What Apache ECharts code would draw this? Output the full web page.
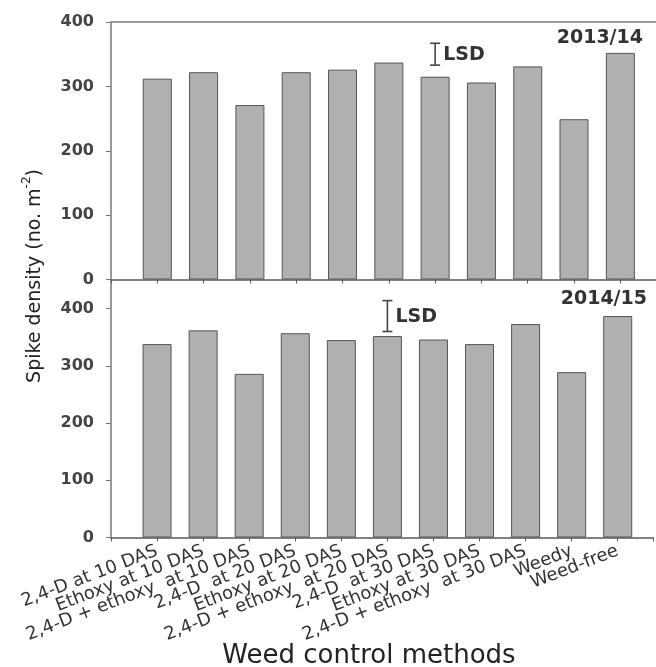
<!DOCTYPE html>
<html>
<head>
<meta charset="utf-8">
<script src="https://cdn.jsdelivr.net/npm/echarts@6/dist/echarts.min.js"></script>
<style>
  html, body { margin: 0; padding: 0; background: #fff; }
  #chart { width: 656px; height: 667px; }
</style>
</head>
<body>
<div id="chart"></div>
<script>
// Treatments (x categories)
const categories = [
  '2,4-D at 10 DAS',
  'Ethoxy at 10 DAS',
  '2,4-D + ethoxy  at 10 DAS',
  '2,4-D  at 20 DAS',
  'Ethoxy at 20 DAS',
  '2,4-D + ethoxy  at 20 DAS',
  '2,4-D  at 30 DAS',
  'Ethoxy at 30 DAS',
  '2,4-D + ethoxy  at 30 DAS',
  'Weedy',
  'Weed-free'
];

// Spike density (no. m-2) per season
const density2013 = [312, 322, 271, 322, 326, 337, 315, 306, 331, 249, 352];
const density2014 = [338, 362, 286, 357, 345, 352, 346, 338, 373, 289, 387];

// LSD bars: [x position (treatment number), lower end, upper end]
const lsd2013 = [7, 333, 367];
const lsd2014 = [6, 360, 414];

// Season labels
const seasons = ['2013/14', '2014/15'];

const chart = echarts.init(document.getElementById('chart'), null, { renderer: 'canvas' });

const AXIS = '#5a5a5a';
const TEXT = '#333';
const BAR_FILL = '#b0b0b0';
const BAR_EDGE = '#555';

// The x frame runs off the right edge of the plot area
const xMax = 11.77;

function toPoints(vals) {
  return vals.map((v, i) => [i + 1, v]);
}

function lsdRender(params, api) {
  const x = api.value(0);
  const p1 = api.coord([x, api.value(1)]);
  const p2 = api.coord([x, api.value(2)]);
  const cap = 5;
  const style = { stroke: '#444', lineWidth: 1.6 };
  return {
    type: 'group',
    children: [
      { type: 'line', shape: { x1: p1[0], y1: p1[1], x2: p2[0], y2: p2[1] }, style },
      { type: 'line', shape: { x1: p1[0] - cap, y1: p1[1], x2: p1[0] + cap, y2: p1[1] }, style },
      { type: 'line', shape: { x1: p2[0] - cap, y1: p2[1], x2: p2[0] + cap, y2: p2[1] }, style },
      {
        type: 'text',
        x: p1[0] + 8,
        y: (p1[1] + p2[1]) / 2 + 1,
        style: {
          text: 'LSD',
          fill: '#333',
          font: 'bold 19px "DejaVu Sans"',
          align: 'left',
          verticalAlign: 'middle'
        }
      }
    ]
  };
}

const xAxisBase = {
  type: 'value',
  min: 0,
  max: xMax,
  interval: 1,
  splitLine: { show: false },
  axisLine: { show: true, onZero: false, lineStyle: { color: AXIS, width: 1.5 } },
  axisTick: { show: true, length: 4, lineStyle: { color: AXIS } }
};

const yAxisBase = {
  type: 'value',
  min: 0,
  interval: 100,
  splitLine: { show: false },
  axisLine: { show: true, lineStyle: { color: '#777', width: 1.5 } },
  axisTick: { show: true, length: 5, lineStyle: { color: '#777' } },
  axisLabel: {
    margin: 17,
    color: '#444',
    fontFamily: 'DejaVu Sans',
    fontWeight: 'bold',
    fontSize: 16
  }
};

const option = {
  backgroundColor: '#fff',
  animation: false,
  grid: [
    { left: 111, top: 22, right: 0, height: 257.5 },
    { left: 111, top: 280, right: 0, height: 257.5 }
  ],
  xAxis: [
    Object.assign({}, xAxisBase, {
      gridIndex: 0,
      axisLabel: { show: false }
    }),
    Object.assign({}, xAxisBase, {
      gridIndex: 1,
      axisLabel: {
        show: true,
        rotate: 21,
        margin: 13,
        color: TEXT,
        fontFamily: 'DejaVu Sans',
        fontSize: 18,
        formatter: v => (Number.isInteger(v) ? categories[v - 1] || '' : '')
      }
    }),
    // frame line along the top of the upper panel
    {
      type: 'value',
      gridIndex: 0,
      position: 'top',
      min: 0,
      max: xMax,
      axisLine: { show: true, onZero: false, lineStyle: { color: '#999', width: 2 } },
      axisTick: { show: false },
      axisLabel: { show: false },
      splitLine: { show: false }
    }
  ],
  yAxis: [
    Object.assign({}, yAxisBase, { gridIndex: 0, max: 400 }),
    Object.assign({}, yAxisBase, {
      gridIndex: 1,
      max: 450,
      axisLabel: Object.assign({}, yAxisBase.axisLabel, { showMaxLabel: false })
    })
  ],
  series: [
    {
      type: 'bar',
      xAxisIndex: 0,
      yAxisIndex: 0,
      barWidth: 29,
      data: toPoints(density2013),
      itemStyle: { color: BAR_FILL, borderColor: BAR_EDGE, borderWidth: 1 }
    },
    {
      type: 'bar',
      xAxisIndex: 1,
      yAxisIndex: 1,
      barWidth: 29,
      data: toPoints(density2014),
      itemStyle: { color: BAR_FILL, borderColor: BAR_EDGE, borderWidth: 1 }
    },
    {
      type: 'custom',
      xAxisIndex: 0,
      yAxisIndex: 0,
      renderItem: lsdRender,
      data: [lsd2013],
      z: 5
    },
    {
      type: 'custom',
      xAxisIndex: 1,
      yAxisIndex: 1,
      renderItem: lsdRender,
      data: [lsd2014],
      z: 5
    }
  ],
  graphic: [
    {
      type: 'text',
      x: 643,
      y: 38,
      style: {
        text: seasons[0],
        fill: TEXT,
        font: 'bold 19px "DejaVu Sans"',
        align: 'right',
        verticalAlign: 'middle'
      }
    },
    {
      type: 'text',
      x: 647,
      y: 299,
      style: {
        text: seasons[1],
        fill: TEXT,
        font: 'bold 19px "DejaVu Sans"',
        align: 'right',
        verticalAlign: 'middle'
      }
    },
    {
      type: 'text',
      x: 33,
      y: 276,
      rotation: Math.PI / 2,
      style: {
        text: '{a|Spike density (no. m}{s|-2}{a|)}',
        align: 'center',
        verticalAlign: 'middle',
        fill: '#222',
        rich: {
          a: { fontFamily: 'DejaVu Sans', fontSize: 19, lineHeight: 24, fill: '#222', verticalAlign: 'bottom' },
          s: { fontFamily: 'DejaVu Sans', fontSize: 12, lineHeight: 24, fill: '#222', verticalAlign: 'top' }
        }
      }
    },
    {
      type: 'text',
      x: 369,
      y: 656,
      style: {
        text: 'Weed control methods',
        fill: '#222',
        font: '26px "DejaVu Sans"',
        align: 'center',
        verticalAlign: 'middle'
      }
    }
  ]
};

chart.setOption(option);
</script>
</body>
</html>
